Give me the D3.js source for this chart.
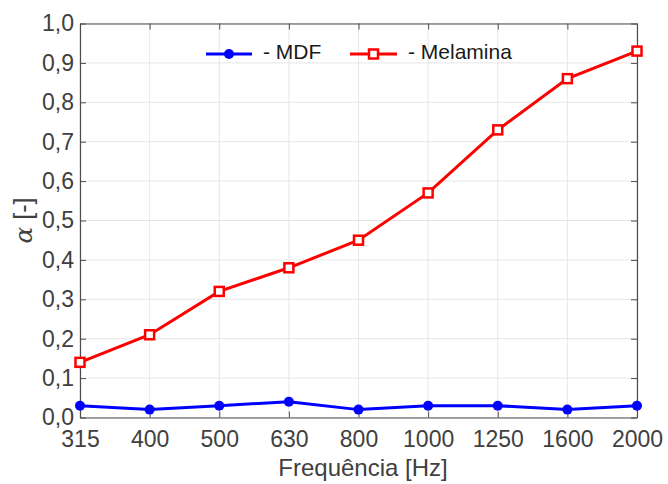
<!DOCTYPE html>
<html>
<head>
  <meta charset="utf-8">
  <title>Absorção</title>
  <script src="https://d3js.org/d3.v7.min.js"></script>
  <style>
    body { margin: 0; background: #fff; }
    text { font-family: "Liberation Sans", Arial, sans-serif; }
  </style>
</head>
<body>
  <script>
    // dados
    var freqs = ["315", "400", "500", "630", "800", "1000", "1250", "1600", "2000"];
    var mdf = [0.03, 0.02, 0.03, 0.04, 0.02, 0.03, 0.03, 0.02, 0.03];
    var melamina = [0.14, 0.21, 0.32, 0.38, 0.45, 0.57, 0.73, 0.86, 0.93];
    var yTicks = [0, 0.1, 0.2, 0.3, 0.4, 0.5, 0.6, 0.7, 0.8, 0.9, 1.0];

    var width = 668, height = 484;
    var mLeft = 80, mRight = 637, mTop = 23.5, mBottom = 417.5;

    var svg = d3.select("body").append("svg").attr("width", width).attr("height", height);

    var x = d3.scalePoint().domain(freqs).range([mLeft, mRight]);
    var y = d3.scaleLinear().domain([0, 1]).range([mBottom, mTop]);
    var fmt = d => d3.format(".1f")(d).replace(".", ",");

    // grade
    var grid = svg.append("g").attr("stroke", "#e6e6e6").attr("stroke-width", 1);
    grid.selectAll(".gx").data(freqs).enter().append("line")
      .attr("x1", d => x(d)).attr("x2", d => x(d)).attr("y1", mTop).attr("y2", mBottom);
    grid.selectAll(".gy").data(yTicks).enter().append("line")
      .attr("x1", mLeft).attr("x2", mRight).attr("y1", d => y(d)).attr("y2", d => y(d));

    // eixos (caixa estilo MATLAB, ticks para dentro)
    var axisColor = "#4d4d4d";
    function style(g) {
      g.select(".domain").attr("stroke", axisColor).attr("stroke-width", 1.2);
      g.selectAll(".tick line").attr("stroke", axisColor);
      g.selectAll(".tick text").attr("fill", "#404040").attr("font-size", 23);
    }
    svg.append("g").attr("transform", "translate(0," + mBottom + ")")
      .call(d3.axisBottom(x).tickSizeInner(-6).tickSizeOuter(0).tickPadding(13))
      .call(style);
    svg.append("g").attr("transform", "translate(0," + mTop + ")")
      .call(d3.axisTop(x).tickSizeInner(-6).tickSizeOuter(0).tickFormat(""))
      .call(style);
    svg.append("g").attr("transform", "translate(" + mLeft + ",0)")
      .call(d3.axisLeft(y).tickValues(yTicks).tickFormat(fmt).tickSizeInner(-6).tickSizeOuter(0).tickPadding(6))
      .call(style);
    svg.append("g").attr("transform", "translate(" + mRight + ",0)")
      .call(d3.axisRight(y).tickValues(yTicks).tickFormat("").tickSizeInner(-6).tickSizeOuter(0))
      .call(style);

    // séries
    var line = d3.line().x((d, i) => x(freqs[i])).y(d => y(d));
    svg.append("path").datum(mdf).attr("d", line)
      .attr("fill", "none").attr("stroke", "#0000ff").attr("stroke-width", 3);
    svg.append("path").datum(melamina).attr("d", line)
      .attr("fill", "none").attr("stroke", "#ff0000").attr("stroke-width", 3);

    svg.append("g").selectAll("circle").data(mdf).enter().append("circle")
      .attr("cx", (d, i) => x(freqs[i])).attr("cy", d => y(d)).attr("r", 5)
      .attr("fill", "#0000ff");
    svg.append("g").selectAll("rect").data(melamina).enter().append("rect")
      .attr("x", (d, i) => x(freqs[i]) - 4.5).attr("y", d => y(d) - 4.5)
      .attr("width", 9).attr("height", 9)
      .attr("fill", "#ffffff").attr("stroke", "#ff0000").attr("stroke-width", 2.5);

    // legenda
    var leg = svg.append("g");
    leg.append("line").attr("x1", 206).attr("x2", 252).attr("y1", 54).attr("y2", 54)
      .attr("stroke", "#0000ff").attr("stroke-width", 3);
    leg.append("circle").attr("cx", 229).attr("cy", 54).attr("r", 5).attr("fill", "#0000ff");
    leg.append("text").attr("x", 263).attr("y", 59).attr("font-size", 21).attr("fill", "#1a1a1a").text("- MDF");
    leg.append("line").attr("x1", 350).attr("x2", 397).attr("y1", 54).attr("y2", 54)
      .attr("stroke", "#ff0000").attr("stroke-width", 3);
    leg.append("rect").attr("x", 369).attr("y", 49.5).attr("width", 9).attr("height", 9)
      .attr("fill", "#ffffff").attr("stroke", "#ff0000").attr("stroke-width", 2.5);
    leg.append("text").attr("x", 408).attr("y", 59).attr("font-size", 21).attr("fill", "#1a1a1a").text("- Melamina");

    // rótulos dos eixos
    svg.append("text").attr("x", 363).attr("y", 476).attr("text-anchor", "middle")
      .attr("font-size", 24).attr("fill", "#404040").text("Frequência [Hz]");
    var yl = svg.append("text").attr("transform", "translate(32," + ((mTop + mBottom) / 2) + ") rotate(-90)")
      .attr("text-anchor", "middle").attr("font-size", 25).attr("fill", "#404040");
    yl.append("tspan").attr("font-family", "DejaVu Serif, serif").attr("font-style", "italic").text("α");
    yl.append("tspan").text(" [-]");
  </script>
</body>
</html>
